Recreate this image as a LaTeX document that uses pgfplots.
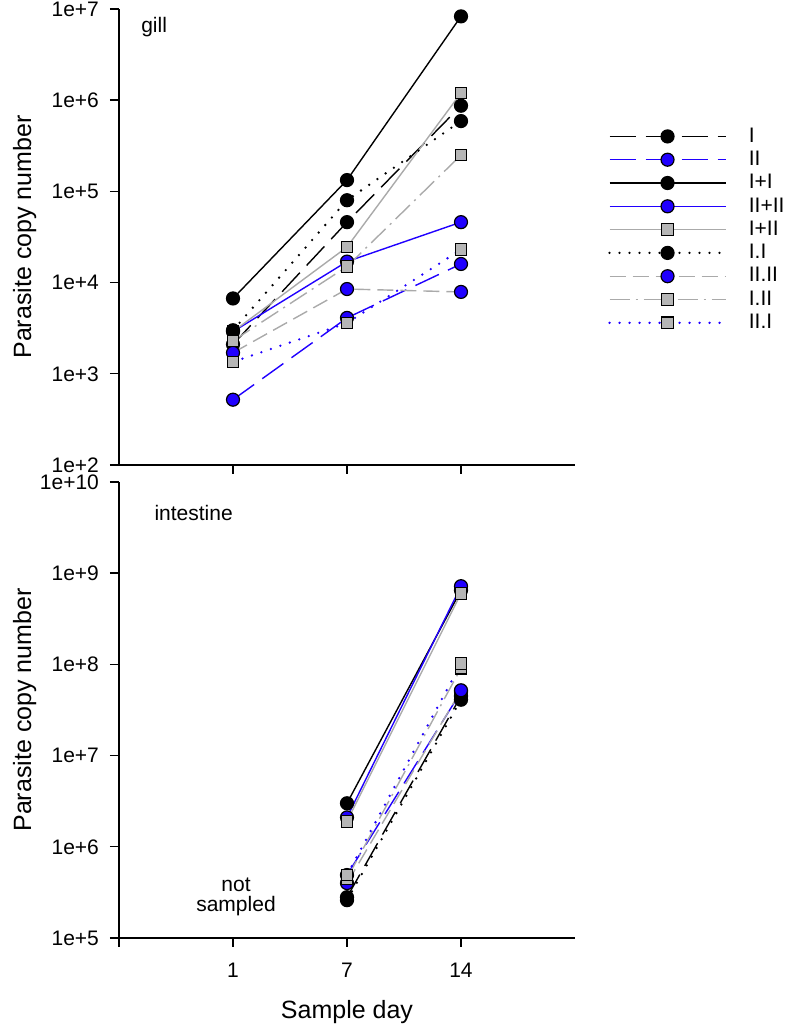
\documentclass[border=0pt]{standalone}
\usepackage{fontspec}
\setmainfont{Liberation Sans}
\usepackage{pgfplots}
\pgfplotsset{compat=1.18}

\definecolor{pblue}{RGB}{32,0,255}
\definecolor{lgrey}{RGB}{170,170,170}
\definecolor{mgrey}{RGB}{182,182,182}

\newcommand{\smallf}{\fontsize{10.5}{12}\selectfont}
\newcommand{\labf}{\fontsize{12.5}{15}\selectfont}

\pgfplotsset{
  circ/.style={mark=*, mark size=3.25pt, mark options={solid, fill=#1, draw=black, line width=0.6pt}},
  sqr/.style={mark=square*, mark size=2.9pt, mark options={solid, fill=mgrey, draw=black, line width=0.6pt}},
  dots/.style={line width=1.3pt, line cap=round, dash pattern=on 0pt off 5pt},
  sI/.style={black, dash pattern=on 13pt off 5pt, circ=black},
  sII/.style={pblue, dash pattern=on 13pt off 5pt, circ=pblue},
  sIpI/.style={black, solid, circ=black},
  sIIpII/.style={pblue, solid, circ=pblue},
  sIpII/.style={lgrey, solid, sqr},
  sIdI/.style={black, dots, circ=black},
  sIIdII/.style={lgrey, dash pattern=on 8pt off 3.5pt, circ=pblue},
  sIdII/.style={lgrey, dash pattern=on 10pt off 3pt on 1pt off 3pt, sqr},
  sIIdI/.style={pblue, dots, sqr},
}

\begin{document}
\begin{tikzpicture}
\useasboundingbox (0,0) rectangle (393.5pt,514pt);

% gill
\begin{axis}[
  at={(59.5pt,281.5pt)}, anchor=south west,
  scale only axis, width=228pt, height=228pt,
  ymode=log, xmin=0, xmax=4,
  axis lines*=left, axis line style={line width=0.7pt},
  tick align=outside, major tick length=4.5pt,
  tick style={black, line width=0.7pt},
  yminorticks=false, xminorticks=false,
  tick label style={font=\smallf},
  yticklabel style={xshift=-2pt},
  label style={font=\labf},
  ylabel={Parasite copy number},
  ylabel style={at={(axis description cs:-0.166,0.5)}, anchor=south},
  clip=false,
  every axis plot/.append style={line width=0.7pt},
  ymin=1e2, ymax=1e7,
  ytick={1e2,1e3,1e4,1e5,1e6,1e7},
  yticklabels={1e+2,1e+3,1e+4,1e+5,1e+6,1e+7},
  xtick={1,2,3}, xticklabels={},
  legend style={at={(axis description cs:1.072,0.747)}, anchor=north west,
    draw=none, fill=none, inner sep=0pt, font=\smallf, row sep=0pt,
    nodes={inner sep=0pt, minimum height=11.65pt}},
  legend cell align=left,
  legend image code/.code={
    \draw[mark repeat=2, mark phase=2, #1] plot coordinates {(0pt,0pt) (29pt,0pt) (58pt,0pt)};
    \path (69pt,0pt);
  },
]
\addplot[sI] coordinates {(1,2100) (2,46000) (3,870000)};
\addlegendentry{I}
\addplot[sII] coordinates {(1,520) (2,4100) (3,16000)};
\addlegendentry{II}
\addplot[sIpI] coordinates {(1,6700) (2,133000) (3,8300000)};
\addlegendentry{I+I}
\addplot[sIIpII] coordinates {(1,2900) (2,17000) (3,46000)};
\addlegendentry{II+II}
\addplot[sIpII] coordinates {(1,2900) (2,24500) (3,1200000)};
\addlegendentry{I+II}
\addplot[sIdI] coordinates {(1,3000) (2,80000) (3,590000)};
\addlegendentry{I.I}
\addplot[sIIdII] coordinates {(1,1700) (2,8500) (3,7900)};
\addlegendentry{II.II}
\addplot[sIdII] coordinates {(1,2300) (2,15000) (3,250000)};
\addlegendentry{I.II}
\addplot[sIIdI] coordinates {(1,1350) (2,3600) (3,23000)};
\addlegendentry{II.I}
\node[anchor=base west, inner sep=0pt, font=\smallf] at (axis description cs:0.048,0.948) {gill};
\end{axis}

% intestine
\begin{axis}[
  at={(59.5pt,45pt)}, anchor=south west,
  scale only axis, width=228pt, height=228pt,
  ymode=log, xmin=0, xmax=4,
  axis lines*=left, axis line style={line width=0.7pt},
  tick align=outside, major tick length=4.5pt,
  tick style={black, line width=0.7pt},
  yminorticks=false, xminorticks=false,
  tick label style={font=\smallf},
  yticklabel style={xshift=-2pt},
  xticklabel style={yshift=-4.5pt},
  label style={font=\labf},
  ylabel={Parasite copy number},
  ylabel style={at={(axis description cs:-0.166,0.5)}, anchor=south},
  clip=false,
  every axis plot/.append style={line width=0.7pt},
  ymin=1e5, ymax=1e10,
  ytick={1e5,1e6,1e7,1e8,1e9,1e10},
  yticklabels={1e+5,1e+6,1e+7,1e+8,1e+9,1e+10},
  xtick={0,1,2,3}, xticklabels={,1,7,14},
  xlabel={Sample day},
  xlabel style={at={(axis description cs:0.5,0)}, anchor=base, yshift=-40.5pt},
]
\addplot[sI] coordinates {(2,280000) (3,45000000)};
\addplot[sII] coordinates {(2,490000) (3,50000000)};
\addplot[sIpI] coordinates {(2,3000000) (3,650000000)};
\addplot[sIIpII] coordinates {(2,2100000) (3,720000000)};
\addplot[sIpII] coordinates {(2,1900000) (3,600000000)};
\addplot[sIdI] coordinates {(2,260000) (3,41000000)};
\addplot[sIIdII] coordinates {(2,400000) (3,52000000)};
\addplot[sIdII] coordinates {(2,450000) (3,91000000)};
\addplot[sIIdI] coordinates {(2,490000) (3,102000000)};
\node[anchor=base west, inner sep=0pt, font=\smallf] at (axis description cs:0.077,0.915) {intestine};
\node[anchor=base, inner sep=0pt, font=\smallf] at (axis description cs:0.2566,0.103) {not};
\node[anchor=base, inner sep=0pt, font=\smallf] at (axis description cs:0.2566,0.058) {sampled};
\end{axis}
\end{tikzpicture}
\end{document}
